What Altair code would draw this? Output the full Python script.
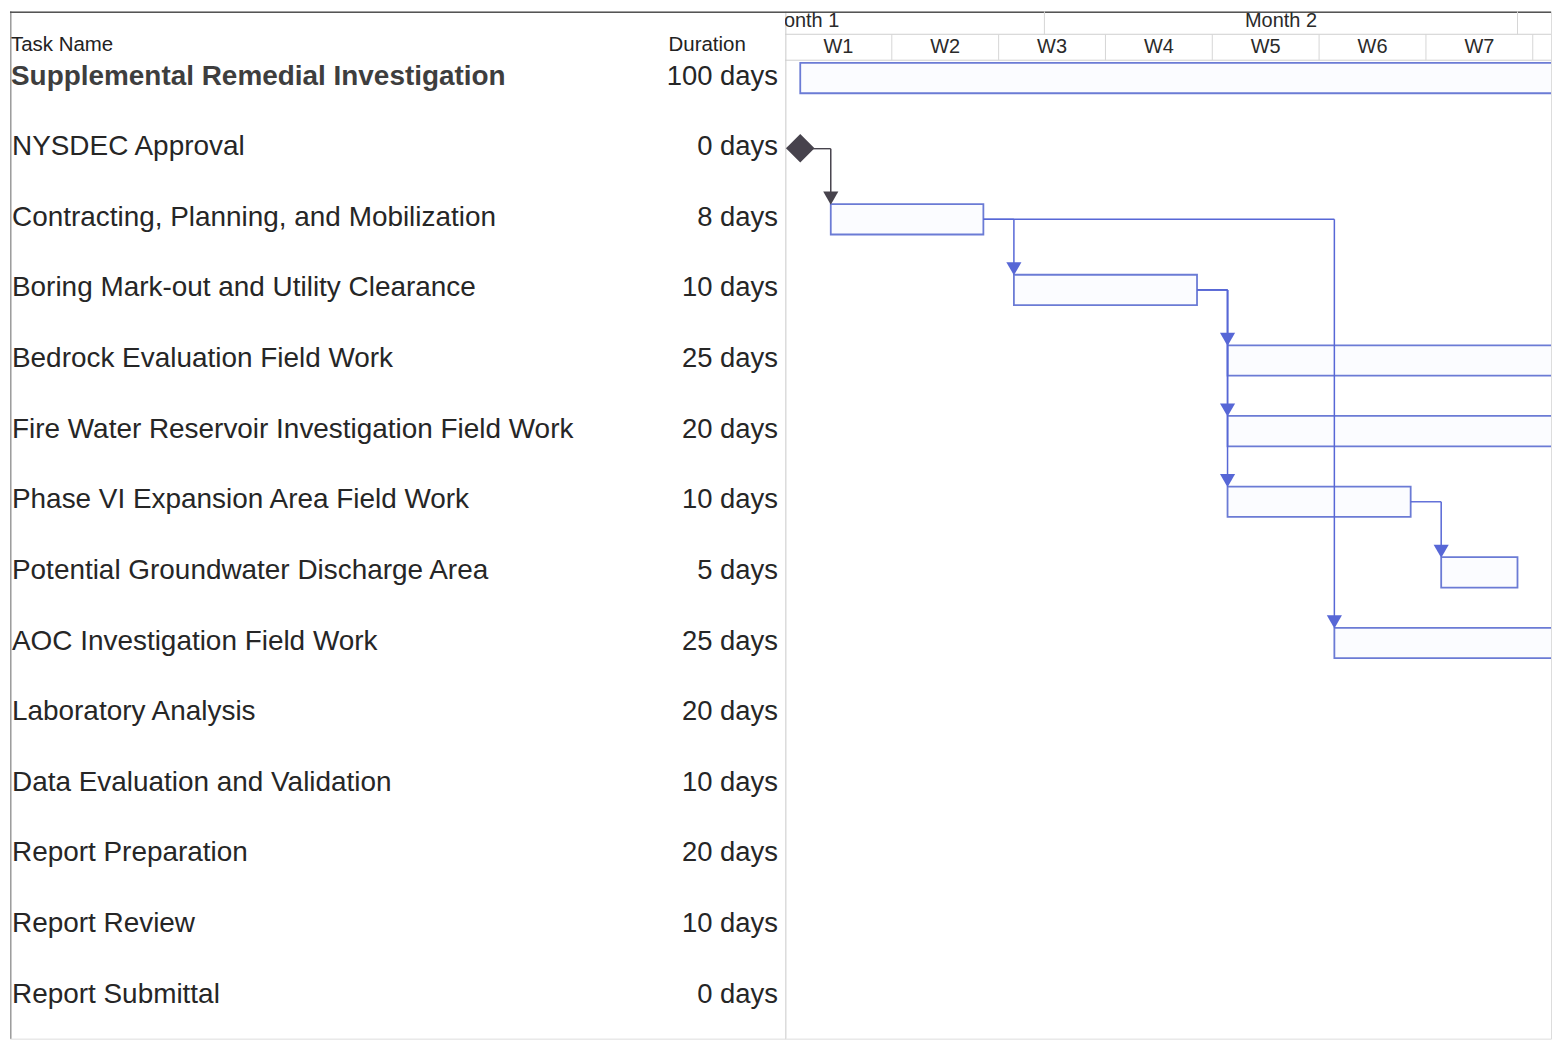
import altair as alt
import pandas as pd

# ---------------- data ----------------
tasks = [
    "Supplemental Remedial Investigation",
    "NYSDEC Approval",
    "Contracting, Planning, and Mobilization",
    "Boring Mark-out and Utility Clearance",
    "Bedrock Evaluation Field Work",
    "Fire Water Reservoir Investigation Field Work",
    "Phase VI Expansion Area Field Work",
    "Potential Groundwater Discharge Area",
    "AOC Investigation Field Work",
    "Laboratory Analysis",
    "Data Evaluation and Validation",
    "Report Preparation",
    "Report Review",
    "Report Submittal",
]
durations = [100, 0, 8, 10, 25, 20, 10, 5, 25, 20, 10, 20, 10, 0]

# bars visible in the timescale (calendar days from the Sunday of W1)
bar_tasks = [
    "Supplemental Remedial Investigation",
    "Contracting, Planning, and Mobilization",
    "Boring Mark-out and Utility Clearance",
    "Bedrock Evaluation Field Work",
    "Fire Water Reservoir Investigation Field Work",
    "Phase VI Expansion Area Field Work",
    "Potential Groundwater Discharge Area",
    "AOC Investigation Field Work",
]
bar_start = [1, 3, 15, 29, 29, 29, 43, 36]
bar_end = [139, 13, 27, 62, 55, 41, 48, 69]

milestone_task = "NYSDEC Approval"
milestone_day = 1

dep_from = [
    "NYSDEC Approval",
    "Contracting, Planning, and Mobilization",
    "Contracting, Planning, and Mobilization",
    "Boring Mark-out and Utility Clearance",
    "Boring Mark-out and Utility Clearance",
    "Boring Mark-out and Utility Clearance",
    "Phase VI Expansion Area Field Work",
]
dep_to = [
    "Contracting, Planning, and Mobilization",
    "Boring Mark-out and Utility Clearance",
    "AOC Investigation Field Work",
    "Bedrock Evaluation Field Work",
    "Fire Water Reservoir Investigation Field Work",
    "Phase VI Expansion Area Field Work",
    "Potential Groundwater Discharge Area",
]

week_labels = ["W1", "W2", "W3", "W4", "W5", "W6", "W7"]
week_mid = [3.5, 10.5, 17.5, 24.5, 31.5, 38.5, 45.5]
week_bounds = [7, 14, 21, 28, 35, 42, 49]
month_labels = ["Month 1", "Month 2"]
month_mid = [1.2, 32.5]
month_bounds = [17, 48]

# ---------------- layout ----------------
H = 1030
LW = 777          # table panel width
RW = 768          # timescale panel width
PX_DAY = 15.3
ROW_H = 70.8
ROW0 = 65.5       # pixel centre of the first row inside the panel
ROW_TOP = -ROW0 / ROW_H
ROW_BOT = (H - ROW0) / ROW_H
BAR_UP = 0.195
BAR_DN = 0.235

FONT = "Liberation Sans"
BLUE = "#6b7bd5"
ARROW = "#5767d6"
DARK = "#47434d"
TXT = "#262626"

row_of = {t: i for i, t in enumerate(tasks)}
rows = pd.DataFrame({"task": tasks, "dur": durations, "row": list(range(len(tasks)))})
rows["dur_txt"] = rows["dur"].astype(str) + " days"

bars = pd.DataFrame({"task": bar_tasks, "start": bar_start, "end": bar_end})
bars["row"] = bars["task"].map(row_of)

ms = pd.DataFrame({"task": [milestone_task], "day": [milestone_day]})
ms["row"] = ms["task"].map(row_of)

start_of = dict(zip(bar_tasks, bar_start))
end_of = dict(zip(bar_tasks, bar_end))
end_of[milestone_task] = milestone_day
deps = pd.DataFrame({"src": dep_from, "dst": dep_to})
deps["x0"] = deps["src"].map(end_of)
deps["x1"] = deps["dst"].map(start_of)
deps["r0"] = deps["src"].map(row_of)
deps["r1"] = deps["dst"].map(row_of)
deps["kind"] = ["ms" if s == milestone_task else "task" for s in deps["src"]]

weeks = pd.DataFrame({"label": week_labels, "mid": week_mid})
wb = pd.DataFrame({"d": week_bounds})
months = pd.DataFrame({"label": month_labels, "mid": month_mid})
mb = pd.DataFrame({"d": month_bounds})
one = pd.DataFrame({"k": [0]})

yscale = alt.Scale(domain=[ROW_TOP, ROW_BOT], reverse=True, nice=False, zero=False)
xscale = alt.Scale(domain=[0, RW / PX_DAY], nice=False, zero=False)
kind_color = alt.Scale(domain=["ms", "task"], range=[DARK, ARROW])

# ---------------- table panel ----------------
names_plain = alt.Chart(rows).transform_filter(alt.datum.row > 0).mark_text(
    align="left", baseline="middle", font=FONT, fontSize=28, color=TXT
).encode(x=alt.value(2), y=alt.Y("row:Q", scale=yscale, axis=None), text="task:N")

names_bold = alt.Chart(rows).transform_filter(alt.datum.row == 0).mark_text(
    align="left", baseline="middle", font=FONT, fontSize=28, fontWeight="bold", color="#3e3e3e"
).encode(x=alt.value(1), y=alt.Y("row:Q", scale=yscale, axis=None), text="task:N")

dur_text = alt.Chart(rows).mark_text(
    align="right", baseline="middle", font=FONT, fontSize=27.5, color=TXT
).encode(x=alt.value(770), y=alt.Y("row:Q", scale=yscale, axis=None), text="dur_txt:N")

hdr_task = alt.Chart(one).mark_text(
    align="left", baseline="middle", font=FONT, fontSize=20.5, color="#222"
).encode(x=alt.value(1), y=alt.value(34), text=alt.value("Task Name"))

hdr_dur = alt.Chart(one).mark_text(
    align="center", baseline="middle", font=FONT, fontSize=20.5, color="#222"
).encode(x=alt.value(699), y=alt.value(34), text=alt.value("Duration"))

left_border = alt.Chart(one).mark_rule(color="#9a9a9a", strokeWidth=1.5).encode(
    x=alt.value(0.8), y=alt.value(0), y2=alt.value(H))
top_border_l = alt.Chart(one).mark_rule(color="#555", strokeWidth=1.5).encode(
    x=alt.value(0), x2=alt.value(LW), y=alt.value(0.8))

left = alt.layer(
    left_border, top_border_l, hdr_task, hdr_dur, names_bold, names_plain, dur_text
).properties(width=LW, height=H)

# ---------------- timescale panel ----------------
top_border_r = alt.Chart(one).mark_rule(color="#555", strokeWidth=1.5).encode(
    x=alt.value(0), x2=alt.value(RW), y=alt.value(0.8))
hline1 = alt.Chart(one).mark_rule(color="#cfcfcf", strokeWidth=1).encode(
    x=alt.value(0), x2=alt.value(RW), y=alt.value(23))
hline2 = alt.Chart(one).mark_rule(color="#cfcfcf", strokeWidth=1).encode(
    x=alt.value(0), x2=alt.value(RW), y=alt.value(49))
divider = alt.Chart(one).mark_rule(color="#dcdcdc", strokeWidth=1.5).encode(
    x=alt.value(0.8), y=alt.value(0), y2=alt.value(H))

week_div = alt.Chart(wb).mark_rule(color="#d6d6d6", strokeWidth=1).encode(
    x=alt.X("d:Q", scale=xscale, axis=None), y=alt.value(23), y2=alt.value(49))
month_div = alt.Chart(mb).mark_rule(color="#d6d6d6", strokeWidth=1).encode(
    x=alt.X("d:Q", scale=xscale, axis=None), y=alt.value(0), y2=alt.value(23))

week_txt = alt.Chart(weeks).mark_text(
    align="center", baseline="middle", font=FONT, fontSize=20, color="#2a2a2a", clip=True
).encode(x=alt.X("mid:Q", scale=xscale, axis=None), y=alt.value(36), text="label:N")
month_txt = alt.Chart(months).mark_text(
    align="center", baseline="middle", font=FONT, fontSize=20, color="#2a2a2a", clip=True
).encode(x=alt.X("mid:Q", scale=xscale, axis=None), y=alt.value(10), text="label:N")

bar_rects = alt.Chart(bars).transform_calculate(
    top=f"datum.row - {BAR_UP}", bot=f"datum.row + {BAR_DN}"
).mark_rect(fill="#fbfcff", stroke=BLUE, strokeWidth=1.8, clip=True).encode(
    x=alt.X("start:Q", scale=xscale, axis=None), x2="end:Q",
    y=alt.Y("top:Q", scale=yscale, axis=None), y2="bot:Q")

h_links = alt.Chart(deps).transform_calculate(
    ry="datum.r0 + 0.02"
).mark_rule(strokeWidth=1.4).encode(
    x=alt.X("x0:Q", scale=xscale, axis=None), x2="x1:Q",
    y=alt.Y("ry:Q", scale=yscale, axis=None),
    color=alt.Color("kind:N", scale=kind_color, legend=None))

v_links = alt.Chart(deps).transform_calculate(
    ry="datum.r0 + 0.02", ty=f"datum.r1 - {BAR_UP} - 0.05"
).mark_rule(strokeWidth=1.5).encode(
    x=alt.X("x1:Q", scale=xscale, axis=None),
    y=alt.Y("ry:Q", scale=yscale, axis=None), y2="ty:Q",
    color=alt.Color("kind:N", scale=kind_color, legend=None))

arrows = alt.Chart(deps).transform_calculate(
    ty=f"datum.r1 - {BAR_UP} - 0.085"
).mark_point(shape="triangle-down", filled=True, size=230, opacity=1).encode(
    x=alt.X("x1:Q", scale=xscale, axis=None),
    y=alt.Y("ty:Q", scale=yscale, axis=None),
    color=alt.Color("kind:N", scale=kind_color, legend=None))

diamond = alt.Chart(ms).transform_calculate(ry="datum.row + 0.015").mark_point(
    shape="diamond", filled=True, size=820, color=DARK, opacity=1
).encode(x=alt.X("day:Q", scale=xscale, axis=None),
         y=alt.Y("ry:Q", scale=yscale, axis=None))

right = alt.layer(
    divider, top_border_r, hline1, hline2, week_div, month_div, month_txt, week_txt,
    bar_rects, h_links, v_links, arrows, diamond
).properties(width=RW, height=H)

chart = alt.hconcat(left, right, spacing=0, bounds="flush").properties(
    padding=0
).configure_view(stroke=None).configure(background="white")

chart.save("out.html", embed_options={"renderer": "svg", "actions": False})
